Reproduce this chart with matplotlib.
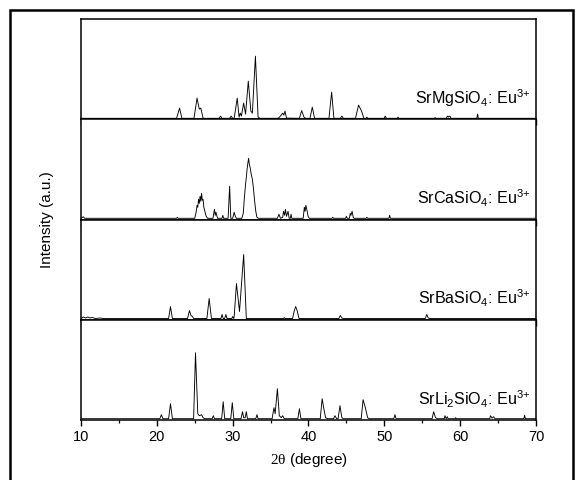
import matplotlib
matplotlib.use("Agg")
import matplotlib.pyplot as plt
from matplotlib.patches import Rectangle
from matplotlib.ticker import MultipleLocator

plt.rcParams['font.family'] = ['Liberation Sans', 'DejaVu Sans']
plt.rcParams['mathtext.default'] = 'regular'
plt.rcParams['mathtext.fontset'] = 'custom'
plt.rcParams['mathtext.rm'] = 'Liberation Serif'
plt.rcParams['mathtext.it'] = 'Liberation Serif:italic'

# ---- data (2theta in degrees, intensity in arbitrary units) ----
labels = ['SrMgSiO$_4$: Eu$^{3{+}}$', 'SrCaSiO$_4$: Eu$^{3{+}}$',
          'SrBaSiO$_4$: Eu$^{3{+}}$', 'SrLi$_2$SiO$_4$: Eu$^{3{+}}$']

mg_tt = [10, 22.6, 23.0, 23.3, 24.9, 25.3, 25.6, 25.8, 26.1, 28.2, 28.4, 28.6, 29.6, 29.8, 30.0,
         30.2, 30.6, 30.85, 31.0, 31.15, 31.45, 31.7, 32.06, 32.4, 32.6, 33.0, 33.35, 33.6, 36.0,
         36.3, 36.6, 36.75, 36.9, 37.1, 38.8, 39.1, 39.4, 39.6, 40.2, 40.5, 40.8, 42.7, 43.05,
         43.35, 44.2, 44.4, 44.6, 46.2, 46.6, 47.0, 47.3, 47.6, 47.7, 47.8, 50.0, 50.1, 50.3, 51.7,
         51.8, 51.9, 56.6, 56.7, 56.8, 58.2, 58.3, 58.45, 58.55, 58.7, 58.8, 62.2, 62.3, 62.4, 70]
mg_int = [0.8, 0.8, 11, 0.8, 0.8, 21, 10, 11, 0.8, 0.8, 3, 0.8, 0.8, 3, 0.8,
          0.8, 21, 2, 6, 3, 16, 5, 38, 8, 6, 63, 2, 0.8, 0.8,
          3, 6, 4, 8, 1, 0.8, 8.6, 2, 0.8, 0.8, 12, 0.8, 0.8, 27,
          0.8, 0.8, 3, 0.8, 0.8, 14, 8, 0.8, 0.8, 2, 0.8, 0.8, 3, 0.8, 0.8,
          2, 0.8, 0.8, 1.5, 0.8, 0.8, 3, 2, 3, 2.5, 0.8, 0.8, 5, 0.8, 0.8]

ca_tt = [10, 10.3, 10.5, 22.6, 22.7, 22.8, 25.0, 25.2, 25.3, 25.4, 25.5, 25.6, 25.7, 25.8, 25.9,
         26.0, 26.1, 26.2, 26.3, 26.5, 26.7, 27.4, 27.6, 27.7, 27.8, 28.0, 28.6, 28.7, 28.8, 29.4,
         29.6, 29.75, 30.0, 30.2, 30.35, 30.5, 31.2, 31.4, 31.55, 31.7, 31.8, 31.9, 32.0, 32.1,
         32.2, 32.3, 32.45, 32.6, 32.75, 32.9, 33.05, 33.2, 33.4, 35.9, 36.1, 36.3, 36.6, 36.7,
         36.85, 36.95, 37.1, 37.3, 37.45, 37.6, 37.7, 37.8, 39.3, 39.45, 39.55, 39.65, 39.8, 39.95,
         40.1, 43.1, 43.2, 43.3, 44.9, 45.0, 45.1, 45.4, 45.5, 45.6, 45.75, 45.9, 46.0, 47.6, 47.7,
         47.8, 50.6, 50.7, 50.8, 70]
ca_int = [1, 2.5, 1, 1, 2, 1, 1, 8, 14, 12, 20, 16, 23, 18, 26,
          19, 20, 12, 9, 3, 1, 1, 10, 4, 7, 1, 1, 4, 1, 1,
          33, 1, 1, 7, 3, 1, 1, 6, 22, 35, 42, 50, 56, 61,
          55, 52, 45, 40, 30, 18, 8, 2, 1, 1, 5, 1, 2, 8,
          4, 10, 3, 8, 1, 1, 5, 1, 1, 12, 8, 14, 9, 3,
          1, 1, 2, 1, 1, 3, 1, 1, 6, 4, 8, 2, 1, 1, 2,
          1, 1, 4, 1, 1]

ba_tt = [10, 10.3, 10.6, 10.9, 11.2, 11.5, 11.9, 12.5, 13, 21.55, 21.8, 22.05, 24.05, 24.3, 24.5,
         24.7, 24.85, 26.6, 26.9, 27.2, 28.45, 28.6, 28.75, 28.95, 29.1, 29.25, 29.9, 30.0, 30.15,
         30.2, 30.5, 30.9, 31.45, 31.8, 36.7, 36.8, 36.9, 37.9, 38.1, 38.3, 38.5, 38.75, 44.0, 44.2,
         44.4, 44.6, 55.4, 55.6, 55.8, 56.0, 70]
ba_int = [1, 2.5, 1.5, 2.5, 1.5, 2, 1, 1.5, 1, 1, 13, 1, 1, 9, 4,
          3, 1, 1, 21, 1, 1, 5, 1, 1, 5, 1, 1, 3, 1,
          3, 36, 8, 65, 1, 1, 1.8, 1, 1, 8, 13, 9, 1, 1, 4,
          1.5, 1, 1, 5, 1.5, 1, 1]

li_tt = [10, 20.4, 20.6, 20.8, 21.55, 21.8, 22.05, 24.85, 25.1, 25.4, 25.6, 25.9, 26.1, 26.3, 27.3,
         27.45, 27.6, 28.55, 28.75, 28.95, 29.75, 29.95, 30.15, 31.1, 31.3, 31.45, 31.65, 31.8, 31.95,
         33.05, 33.2, 33.35, 35.2, 35.45, 35.6, 35.9, 36.15, 36.4, 36.6, 36.8, 38.6, 38.8, 39.0,
         41.55, 41.8, 42.0, 42.25, 42.5, 43.3, 43.5, 43.7, 43.9, 44.15, 44.4, 44.6, 46.95, 47.2,
         47.5, 47.8, 48.0, 51.25, 51.4, 51.55, 56.3, 56.5, 56.75, 57.0, 57.9, 58.0, 58.15, 58.3,
         58.4, 59.35, 59.4, 59.5, 63.9, 64.0, 64.2, 64.4, 64.6, 68.4, 68.5, 68.6, 70]
li_int = [1, 1, 5, 1, 1, 16, 1, 1, 67, 6, 4, 5, 2, 1, 1,
          4, 1, 1, 18, 1, 1, 17, 1, 1, 8, 2, 2, 8, 1,
          1, 5, 1, 1, 12, 6, 31, 4, 2, 4, 1, 1, 11, 1,
          1, 21, 12, 2, 1, 1, 4, 1, 1, 14, 2, 1, 1, 20,
          12, 2, 1, 1, 5, 1, 1, 8, 2, 1, 1, 4, 1, 3,
          1, 1, 2, 1, 1, 4, 1.5, 3, 1, 1, 4.5, 1, 1]

patterns = [(mg_tt, mg_int), (ca_tt, ca_int), (ba_tt, ba_int), (li_tt, li_int)]
xticks = [10, 20, 30, 40, 50, 60, 70]

# ---- figure ----
fig = plt.figure(figsize=(5.84, 4.80), dpi=100)
left, right, bottom, top = 0.1387, 0.9178, 0.125, 0.960
h = (top - bottom) / 4
axes = []
for i in range(4):
    ax = fig.add_axes([left, top - (i + 1) * h, right - left, h])
    tt, inten = patterns[i]
    ax.plot(tt, inten, color='black', lw=0.65)
    ax.set_xlim(10, 70)
    ax.set_ylim(-0.3, 100)
    ax.set_yticks([])
    ax.set_xticks(xticks)
    ax.xaxis.set_minor_locator(MultipleLocator(5))
    ax.tick_params(axis='x', which='major', direction='out', length=4.5, width=1.0,
                   labelsize=10.5, pad=3, top=False)
    ax.tick_params(axis='x', which='minor', direction='out', length=2.5, width=0.9, top=False)
    for s in ax.spines.values():
        s.set_linewidth(1.1)
    if i < 3:
        ax.tick_params(axis='x', labelbottom=False)
    ax.text(0.988, 0.21, labels[i], transform=ax.transAxes, ha='right', va='center',
            fontsize=11.6)
    axes.append(ax)

axes[-1].set_xlabel(r'$\mathrm{2\theta}$ (degree)', fontsize=11, labelpad=5)
fig.text(0.080, (top + bottom) / 2, 'Intensity (a.u.)', rotation=90, ha='center',
         va='center', fontsize=11)

# outer frame
fig.patches.append(Rectangle((10 / 584, -0.05), (573 - 10) / 584, 1 - 10 / 480 + 0.05,
                             transform=fig.transFigure, fill=False, edgecolor='black',
                             lw=1.8))

fig.savefig('out.png', dpi=100)
